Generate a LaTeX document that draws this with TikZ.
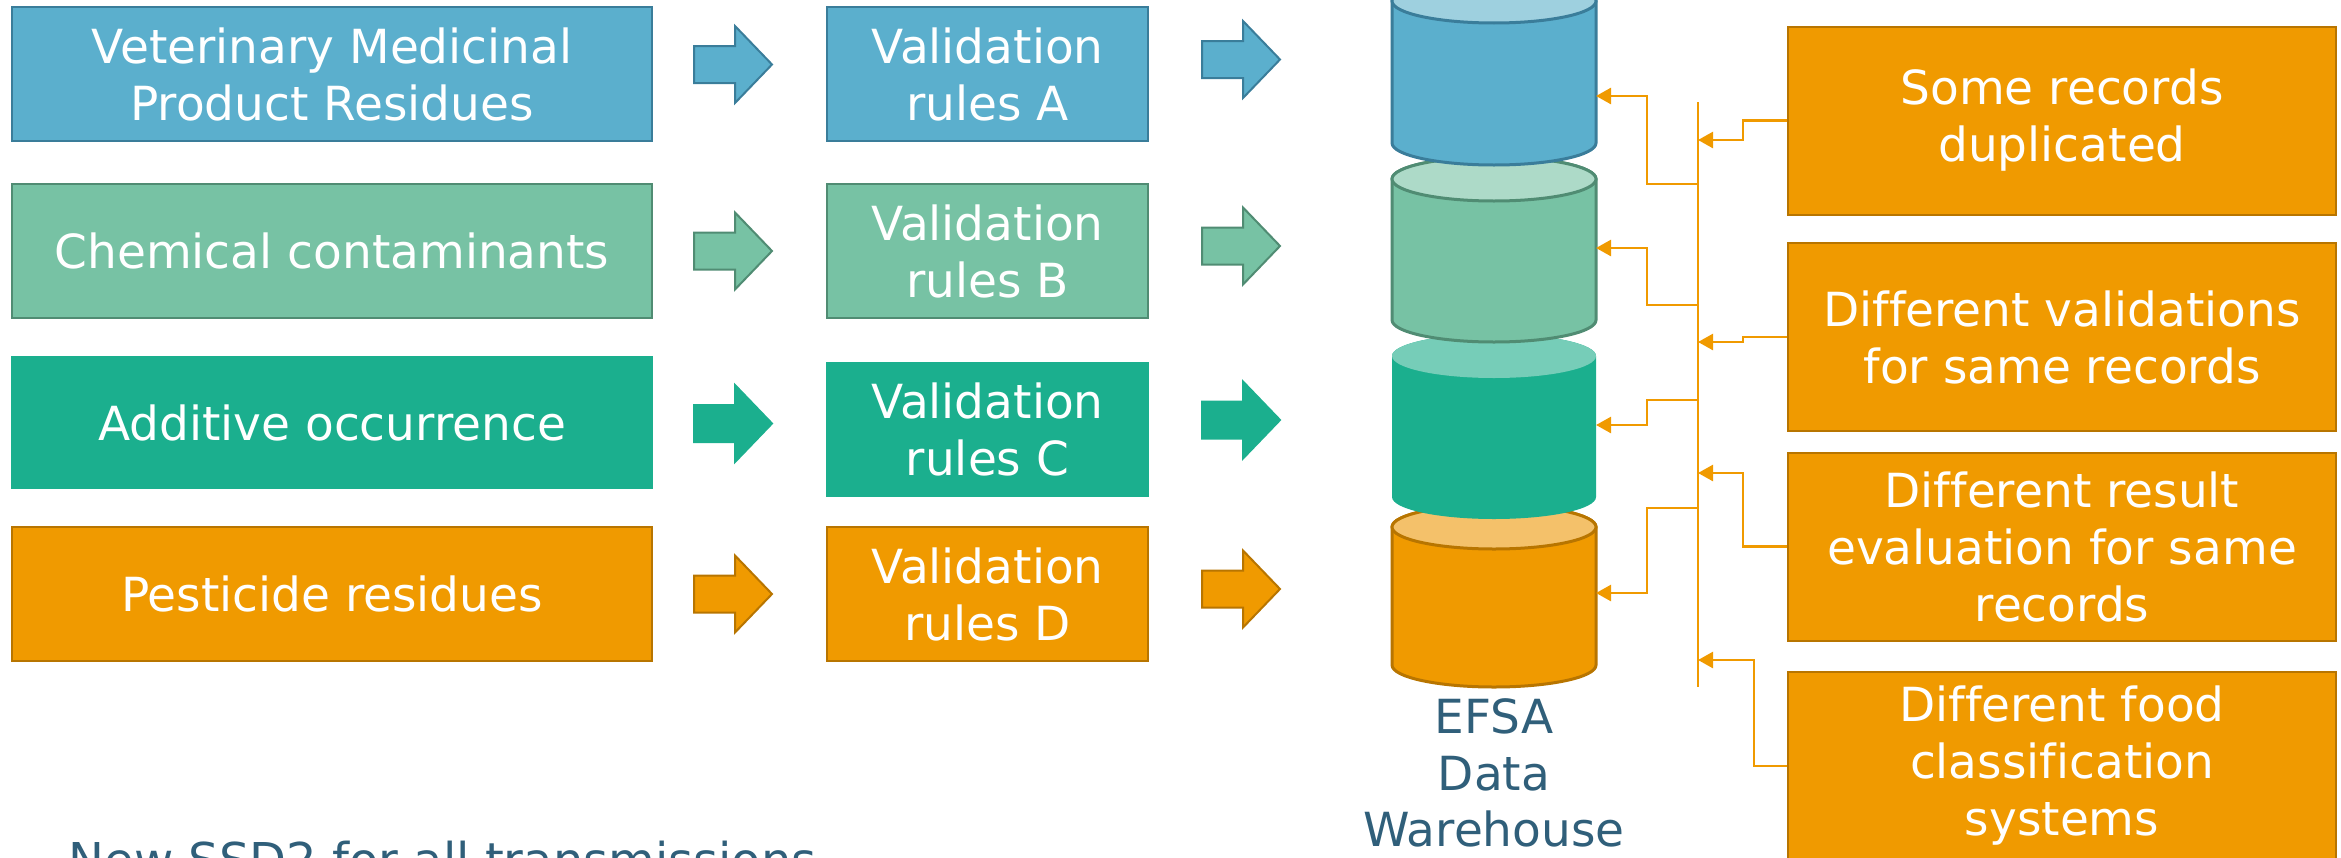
\documentclass[tikz,border=0pt]{standalone}
\usepackage{fontspec}
\setmainfont{DejaVu Sans}[Ligatures=NoCommon]
\usepackage{xcolor}
\usepackage{tikz}
\usetikzlibrary{arrows.meta}
\definecolor{vmpFill}{RGB}{91,175,205}
\definecolor{vmpLine}{RGB}{58,125,154}
\definecolor{vmpTop}{RGB}{158,208,223}
\definecolor{chemFill}{RGB}{119,194,164}
\definecolor{chemLine}{RGB}{80,140,115}
\definecolor{chemTop}{RGB}{173,218,200}
\definecolor{addFill}{RGB}{27,175,142}
\definecolor{addTop}{RGB}{118,205,184}
\definecolor{pestFill}{RGB}{240,154,0}
\definecolor{pestLine}{RGB}{184,117,0}
\definecolor{pestTop}{RGB}{244,193,106}
\definecolor{efsaText}{RGB}{48,95,122}
\tikzset{
  box/.style={draw, line width=0.5pt, text=white, align=center, inner sep=0pt,
    font=\fontsize{11.75}{14.25}\selectfont},
  srcBox/.style={box, minimum width=160pt, minimum height=33.5pt},   % data domains
  ruleBox/.style={box, minimum width=80.25pt, minimum height=33.5pt}, % validation rules
  issueBox/.style={box, fill=pestFill, draw=pestLine, minimum width=137pt, minimum height=47pt},
  blockArrow/.style={line width=0.5pt, line join=miter},
  issueLink/.style={draw=pestFill, line width=0.65pt},
  issueArrow/.style={issueLink, -{Triangle[length=3.75pt, width=4pt]}},
  dwLabel/.style={text=efsaText, align=center, inner sep=0pt, font=\fontsize{11.75}{14.1}\selectfont}
}
% fat arrow: tail x, centre y, fill, line
\newcommand{\BlockArrow}[4]{%
  \filldraw[blockArrow, fill=#3, draw=#4] (#1,#2+18.5) -- ++(41,0) -- ++(0,20)
    -- ++(37,-38.5) -- ++(-37,-38.5) -- ++(0,20) -- ++(-41,0) -- cycle;
}
% stacked store: top y, bottom y, body, lid, line
\newcommand{\DrawStore}[5]{%
  \filldraw[fill=#3, draw=#5, line width=0.75pt] (1392,#1) -- (1392,#2)
    arc[start angle=180, end angle=360, x radius=102, y radius=22] -- (1596,#1)
    arc[start angle=0, end angle=180, x radius=102, y radius=22] -- cycle;
  \filldraw[fill=#4, draw=#5, line width=0.75pt] (1494,#1) ellipse[x radius=102, y radius=22];
}
\begin{document}
\begin{tikzpicture}[x=0.25pt, y=0.25pt]
  \useasboundingbox (0,0) rectangle (2341,-857);
  \clip (0,0) rectangle (2341,-857);
  % data domains
  \node[srcBox, fill=vmpFill, draw=vmpLine] (vmp) at (332,-74) {Veterinary Medicinal\\Product Residues};
  \node[srcBox, fill=chemFill, draw=chemLine] (chem) at (332,-251) {Chemical contaminants};
  \node[srcBox, fill=addFill, draw=addFill, minimum height=32.75pt] (add) at (332,-422.5) {Additive occurrence};
  \node[srcBox, fill=pestFill, draw=pestLine] (pest) at (332,-594) {Pesticide residues};
  % validation rules
  \node[ruleBox, fill=vmpFill, draw=vmpLine] (ruleA) at (987.5,-74) {Validation\\rules A};
  \node[ruleBox, fill=chemFill, draw=chemLine] (ruleB) at (987.5,-251) {Validation\\rules B};
  \node[ruleBox, fill=addFill, draw=addFill, minimum height=33.25pt] (ruleC) at (987.5,-429.5) {Validation\\rules C};
  \node[ruleBox, fill=pestFill, draw=pestLine] (ruleD) at (987.5,-594) {Validation\\rules D};
  % fat arrows
  \foreach \y/\fc/\dc in {64.5/vmpFill/vmpLine, 251/chemFill/chemLine, 423.5/addFill/addFill, 594/pestFill/pestLine}{
    \BlockArrow{694}{-\y}{\fc}{\dc}
  }
  \foreach \y/\fc/\dc in {59.5/vmpFill/vmpLine, 246/chemFill/chemLine, 420/addFill/addFill, 589/pestFill/pestLine}{
    \BlockArrow{1202}{-\y}{\fc}{\dc}
  }
  % data warehouse, drawn bottom up
  \DrawStore{-527}{-665}{pestFill}{pestTop}{pestLine}
  \DrawStore{-356}{-497}{addFill}{addTop}{none}
  \DrawStore{-179}{-320}{chemFill}{chemTop}{chemLine}
  \DrawStore{-1}{-143}{vmpFill}{vmpTop}{vmpLine}
  \node[dwLabel, anchor=north] (dw) at (1494,-698) {EFSA\\Data\\Warehouse};
  % issues
  \node[issueBox] (dup) at (2062,-120.5) {Some records\\duplicated};
  \node[issueBox] (val) at (2062,-337) {Different validations\\for same records};
  \node[issueBox] (eval) at (2062,-546.5) {Different result\\evaluation for same\\records};
  \node[issueBox] (food) at (2062,-766) {Different food\\classification\\systems};
  % bus
  \coordinate (busT) at (1698,-102);
  \coordinate (busB) at (1698,-687);
  \draw[issueLink] (busT) -- (busB);
  % bus to warehouse
  \foreach \i/\ty/\cy in {1/184/96, 2/305/248, 3/400/425, 4/508/593}{
    \coordinate (tap\i) at (1698,-\ty);
    \coordinate (store\i) at (1596,-\cy);
    \draw[issueArrow] (tap\i) -- ++(-51,0) |- (store\i);
  }
  % issues to bus
  \foreach \n/\by/\dx in {dup/140/44, val/342/44, eval/473/44, food/660/33}{
    \coordinate (in\n) at (1698,-\by);
    \draw[issueArrow] (\n.west) -- ++(-\dx,0) |- (in\n);
  }
  \node[anchor=base west, inner sep=0pt, text=efsaText, font=\fontsize{12}{14.4}\selectfont] (ssd) at (68,-877) {New SSD2 for all transmissions};
\end{tikzpicture}
\end{document}
